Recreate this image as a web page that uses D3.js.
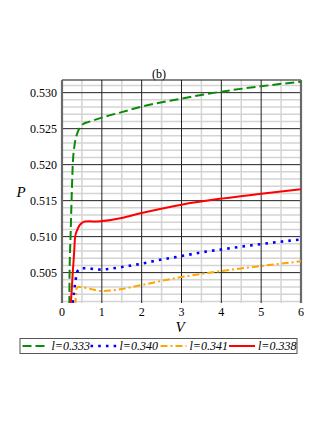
<!DOCTYPE html>
<html>
<head>
<meta charset="utf-8">
<script src="https://cdn.jsdelivr.net/npm/d3@7"></script>
<style>
  body { margin: 0; background: #fff; }
  text { font-family: "Liberation Serif", "DejaVu Serif", serif; }
</style>
</head>
<body>
<div id="chart"></div>
<script>
const width = 327,
      height = 423,
      margin = ({ top: 80, right: 26, bottom: 120, left: 62 });

// data
const xTicks = [0, 1, 2, 3, 4, 5, 6];
const yTicks = [0.505, 0.510, 0.515, 0.520, 0.525, 0.530];

const greenV = [0.185, 0.19, 0.215, 0.24, 0.27, 0.32, 0.38, 0.44, 0.48, 0.55, 0.65, 0.8, 1.0, 1.5, 2, 3, 4, 5, 6];
const greenP = [0.5005, 0.505, 0.510, 0.515, 0.520, 0.5229, 0.5243, 0.5251, 0.5254, 0.5257, 0.5259, 0.52618, 0.52653, 0.5273, 0.52806, 0.52917, 0.53014, 0.53089, 0.53153];

const blueV = [0.27, 0.30, 0.33, 0.36, 0.40, 0.45, 0.55, 0.65, 0.84, 1.0, 1.22, 1.42, 1.61, 1.81, 2.0, 2.39, 2.96, 3.55, 4.14, 4.89, 5.64, 6];
const blueP = [0.5008, 0.5023, 0.5035, 0.5046, 0.5053, 0.50555, 0.5056, 0.5056, 0.50545, 0.50542, 0.50555, 0.5057, 0.50588, 0.50606, 0.50625, 0.5067, 0.50726, 0.50786, 0.50833, 0.50889, 0.50939, 0.5096];

const orangeV = [0.335, 0.345, 0.36, 0.40, 0.48, 0.62, 0.8, 1.0, 1.2, 1.46, 2, 3, 4, 5, 6];
const orangeP = [0.5005, 0.5015, 0.5027, 0.5030, 0.5030, 0.50286, 0.50262, 0.50244, 0.5025, 0.50268, 0.50328, 0.50439, 0.50522, 0.50592, 0.50657];

const redV = [0.21, 0.22, 0.27, 0.30, 0.33, 0.38, 0.44, 0.5, 0.57, 0.7, 0.82, 1.0, 1.5, 2, 3, 4, 5, 6];
const redP = [0.5005, 0.5008, 0.505, 0.5074, 0.510, 0.5109, 0.51157, 0.5119, 0.5121, 0.51212, 0.5121, 0.51217, 0.5126, 0.51328, 0.51444, 0.51528, 0.51597, 0.51657];

const series = [
  { label: "l=0.333", v: greenV, p: greenP, color: "#0a8a0a", dash: "9,4", w: 2 },
  { label: "l=0.340", v: blueV, p: blueP, color: "#0000ff", dash: "2.6,5.1", w: 2.6 },
  { label: "l=0.341", v: orangeV, p: orangeP, color: "#ffa500", dash: "7,3,2,3", w: 2 },
  { label: "l=0.338", v: redV, p: redP, color: "#ff0000", dash: null, w: 2 }
];

const svg = d3.select("#chart")
    .append("svg")
    .attr("width", width)
    .attr("height", height);

let x = d3.scaleLinear()
    .domain([0, 6])
    .range([margin.left, width - margin.right]);

let y = d3.scaleLinear()
    .domain([0.50078, 0.53176])
    .range([height - margin.bottom, margin.top]);

// minor grid
let minorX = d3.range(0.5, 6, 1);
let minorY = d3.range(0.501, 0.5318, 0.001).filter(d => Math.abs(Math.round(d * 200) - d * 200) > 0.01);

svg.append("g").selectAll("line")
    .data(minorX)
    .join("line")
    .attr("x1", d => x(d)).attr("x2", d => x(d))
    .attr("y1", y.range()[0]).attr("y2", y.range()[1])
    .attr("stroke", "#d4d4d4").attr("stroke-width", 1.5);

svg.append("g").selectAll("line")
    .data(minorY)
    .join("line")
    .attr("x1", x.range()[0]).attr("x2", x.range()[1])
    .attr("y1", d => y(d)).attr("y2", d => y(d))
    .attr("stroke", "#d4d4d4").attr("stroke-width", 1.5);

// major grid
svg.append("g").selectAll("line")
    .data(xTicks.slice(1, -1))
    .join("line")
    .attr("x1", d => x(d)).attr("x2", d => x(d))
    .attr("y1", y.range()[0]).attr("y2", y.range()[1])
    .attr("stroke", "#222").attr("stroke-width", 1);

svg.append("g").selectAll("line")
    .data(yTicks)
    .join("line")
    .attr("x1", x.range()[0]).attr("x2", x.range()[1])
    .attr("y1", d => y(d)).attr("y2", d => y(d))
    .attr("stroke", "#222").attr("stroke-width", 1);

// frame
svg.append("line")
    .attr("x1", x.range()[0]).attr("x2", x.range()[1])
    .attr("y1", margin.top).attr("y2", margin.top)
    .attr("stroke", "#111").attr("stroke-width", 1.2);
[x.range()[0], x.range()[1]].forEach(px => {
  svg.append("line")
      .attr("x1", px).attr("x2", px)
      .attr("y1", y.range()[0]).attr("y2", y.range()[1])
      .attr("stroke", "#6a6a6a").attr("stroke-width", 2.2);
});

// tick labels
svg.append("g").selectAll("text")
    .data(yTicks)
    .join("text")
    .attr("x", margin.left - 5)
    .attr("y", d => y(d))
    .attr("dy", "0.35em")
    .attr("text-anchor", "end")
    .attr("font-size", 12)
    .text(d => d3.format(".3f")(d));

svg.append("g").selectAll("text")
    .data(xTicks)
    .join("text")
    .attr("x", d => x(d))
    .attr("y", 316)
    .attr("text-anchor", "middle")
    .attr("font-size", 12)
    .text(d => d);

// axis titles
svg.append("text")
    .attr("x", 21).attr("y", 197)
    .attr("text-anchor", "middle")
    .attr("font-size", 15).attr("font-style", "italic")
    .text("P");

svg.append("text")
    .attr("x", 180).attr("y", 332)
    .attr("text-anchor", "middle")
    .attr("font-size", 15).attr("font-style", "italic")
    .text("V");

svg.append("text")
    .attr("x", 159).attr("y", 78)
    .attr("text-anchor", "middle")
    .attr("font-size", 12)
    .text("(b)");

// curves
svg.append("clipPath").attr("id", "clip")
    .append("rect")
    .attr("x", x.range()[0]).attr("y", margin.top)
    .attr("width", x.range()[1] - x.range()[0])
    .attr("height", y.range()[0] - margin.top);

let line = d3.line()
    .x(d => x(d[0]))
    .y(d => y(d[1]))
    .curve(d3.curveMonotoneX);

svg.append("g")
    .attr("clip-path", "url(#clip)")
    .selectAll("path")
    .data(series)
    .join("path")
    .attr("d", s => line(s.v.map((v, i) => [v, s.p[i]])))
    .attr("fill", "none")
    .attr("stroke", s => s.color)
    .attr("stroke-width", s => s.w)
    .attr("stroke-dasharray", s => s.dash);

// legend
let legend = svg.append("g");
legend.append("rect")
    .attr("x", 20).attr("y", 338.5)
    .attr("width", 277).attr("height", 15)
    .attr("fill", "none").attr("stroke", "#555").attr("stroke-width", 1);

let legendX = [22.5, 90.5, 160.5, 229];
let item = legend.selectAll(".item")
    .data(series)
    .join("g")
    .attr("class", "item")
    .attr("transform", (s, i) => `translate(${legendX[i]}, 346)`);

item.append("line")
    .attr("x1", 0).attr("x2", 26)
    .attr("stroke", s => s.color)
    .attr("stroke-width", s => s.w)
    .attr("stroke-dasharray", s => s.dash);

item.append("text")
    .attr("x", 29)
    .attr("dy", "0.35em")
    .attr("font-size", 12)
    .attr("font-style", "italic")
    .text(s => s.label);
</script>
</body>
</html>
